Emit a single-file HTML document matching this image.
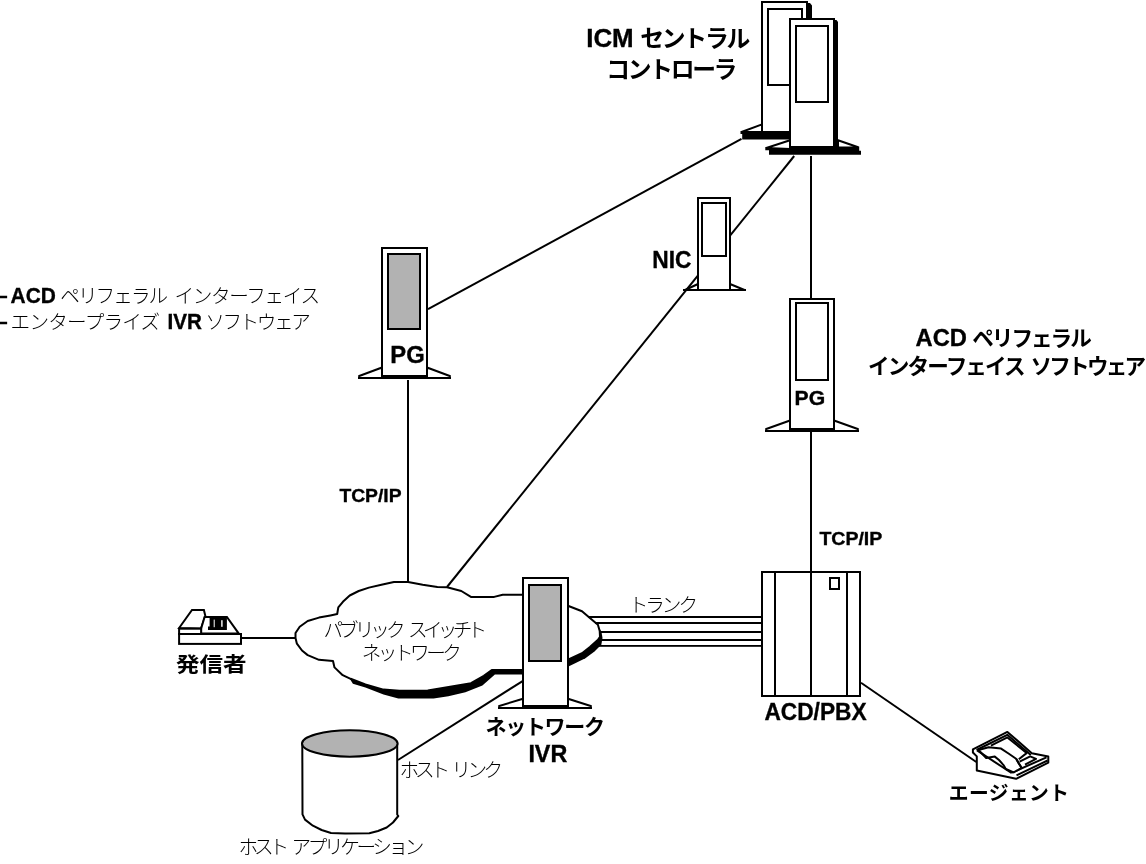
<!DOCTYPE html>
<html lang="ja">
<head>
<meta charset="utf-8">
<title>ICM ネットワーク IVR</title>
<style>
html,body{margin:0;padding:0;background:#fff;overflow:hidden}
svg{display:block;will-change:transform}
text{font-family:"Liberation Sans","Noto Sans CJK JP",sans-serif;fill:#000}
.b{font-weight:bold;stroke:#000;stroke-width:0.35px}
.jb{font-family:"Liberation Sans","Noto Sans CJK JP",sans-serif;font-weight:bold}
.jl{font-family:"Liberation Sans","Noto Sans CJK JP",sans-serif;font-weight:300}
.l{stroke:#000;stroke-width:2;fill:none}
.w{stroke:#000;stroke-width:2;fill:#fff}
.g{stroke:#000;stroke-width:2;fill:#b2b2b2}
.k{fill:#000;stroke:none}
</style>
</head>
<body>
<svg width="1146" height="864" viewBox="0 0 1146 864">
<rect x="0" y="0" width="1146" height="864" fill="#fff"/>

<!-- connection lines -->
<g class="l">
<line x1="428" y1="309.2" x2="741.5" y2="138.9"/>
<line x1="794.2" y1="156" x2="447" y2="587"/>
<line x1="811" y1="156" x2="811" y2="572"/>
<line x1="408" y1="380" x2="408" y2="582"/>
<line x1="241" y1="638" x2="295.5" y2="638"/>
<line x1="523" y1="680.8" x2="398" y2="760"/>
<line x1="861" y1="682.8" x2="976.3" y2="762"/>
</g>

<!-- ICM central controller: back tower -->
<g id="icm-back">
<path class="k" d="M806,1 L808,3 L810,3 L812,5.5 L812,132 L806,132 Z"/>
<rect class="w" x="762" y="2" width="45" height="130"/>
<rect class="w" x="768" y="9" width="34" height="76"/>
<path class="w" d="M762,124.4 L741.5,132 L762,132 Z"/>
<path class="k" d="M740.5,131 L790,131 L790,139.6 L742.2,139.6 L742.2,134 L740.5,134 Z"/>
</g>
<!-- ICM central controller: front tower -->
<g id="icm-front">
<path class="k" d="M833,18 L835,20 L836.5,20 L838,22 L838,147 L833,147 Z"/>
<rect class="w" x="790" y="19" width="44" height="128"/>
<rect class="w" x="796" y="26" width="32" height="76"/>
<path class="w" d="M790,140.3 L766.3,148 L790,149 Z"/>
<path class="w" d="M838,140.3 L858.2,147.3 L838,149 Z"/>
<path class="k" d="M789,146 L838,146 L838,146.5 L859.2,146.5 L859.2,150.8 L861,150.8 L861,154.7 L769,154.7 L769,150.2 L765.3,150.2 L765.3,147 L769,147 L769,148 L789,148 Z"/>
</g>

<!-- NIC tower -->
<g id="nic">
<path class="w" d="M698,284 L685,290 L698,290 Z" stroke-width="1.8"/>
<path class="w" d="M730,284 L744.5,290 L730,290 Z" stroke-width="1.8"/>
<rect class="w" x="698" y="198" width="32" height="92"/>
<rect class="w" x="702" y="203" width="24" height="53"/>
<rect class="k" x="683" y="289" width="63" height="2"/>
</g>

<!-- left PG tower -->
<g id="pg-left">
<path class="w" d="M382,367.5 L359.2,376 L359.2,378 L382,378 Z"/>
<path class="w" d="M427,367.5 L449.8,376 L449.8,378 L427,378 Z"/>
<rect class="w" x="382" y="248" width="45" height="128"/>
<rect class="g" x="388" y="254" width="32" height="75"/>
<rect class="k" x="358" y="377" width="93" height="2"/>
<rect class="k" x="381" y="375" width="47" height="4"/>
</g>

<!-- right PG tower -->
<g id="pg-right">
<path class="w" d="M790,420.5 L766.2,429 L766.2,431 L790,431 Z"/>
<path class="w" d="M834,420.5 L857.8,429 L857.8,431 L834,431 Z"/>
<rect class="w" x="790" y="299" width="44" height="130"/>
<rect class="w" x="796" y="303" width="32" height="77"/>
<rect class="k" x="765" y="430" width="94" height="2"/>
<rect class="k" x="789" y="428" width="46" height="4"/>
</g>

<!-- cloud -->
<g id="cloud" stroke-linejoin="round">
<path class="k" d="M348,676 L352.9,683.7 L365.4,687.6 L383.5,694.5 L398.3,698.4 L433.6,698.4 L448.4,696.2 L465.4,692.2 L482.4,685.4 L494.9,674.6 L523,674.6 L523,668 L480,668 L420,680 Z"/>
<path class="k" d="M598,626 L601.5,632 L602.5,638 L601.3,644.7 L594.5,651.5 L585.4,658.3 L568.5,666.4 L568.5,650 L590,630 Z"/>
<path class="w" d="M295.5,633 L299.7,626.7 L307.7,621 L319,617.6 L330.4,615.4 L337.2,614 L338.3,607.4 L342.9,601.8 L349.7,595.5 L358.7,591 L368.9,587.6 L381.4,584.7 L393.9,582 L408.1,582 L422.7,584.7 L437.4,587 L447.1,587.3 L461.3,591 L470.9,596.9 L494.2,596.9 L502.7,594.7 L523,594.7 L568.5,606 L582,611.2 L589.9,618 L597.9,624.8 L599.7,631 L600,636.7 L598,639.8 L589.9,647 L582,653.2 L568.5,659.5 L523,670 L491.8,670 L483.8,675.9 L471,683.2 L442.7,687.9 L427.8,690.6 L399.4,690.7 L383.5,689.6 L365.4,684.5 L350.6,678.8 L342.7,675.2 L334.5,667.4 L333,661 L319,659.8 L307.7,655.1 L302,650.5 L296.9,643.7 L295.5,638 Z"/>
</g>

<!-- trunk lines -->
<g class="k">
<rect x="588" y="616" width="174" height="2"/>
<rect x="595" y="622" width="167" height="2"/>
<rect x="600" y="631" width="162" height="2"/>
<rect x="600" y="639" width="162" height="2"/>
<rect x="598" y="645" width="164" height="1.8"/>
</g>

<!-- network IVR tower -->
<g id="ivr">
<path class="w" d="M523,698.7 L499.2,706 L499.2,708 L523,708 Z"/>
<path class="w" d="M568,698.7 L590.8,706 L590.8,708 L568,708 Z"/>
<rect class="w" x="523" y="578" width="45" height="128"/>
<rect class="g" x="529" y="585" width="32" height="76"/>
<rect class="k" x="498" y="707" width="94" height="2"/>
<rect class="k" x="522" y="705" width="47" height="4"/>
</g>

<!-- ACD/PBX -->
<g id="acd">
<rect class="w" x="762" y="572" width="98" height="124"/>
<line class="l" x1="775" y1="572" x2="775" y2="696"/>
<line class="l" x1="811" y1="572" x2="811" y2="696"/>
<line class="l" x1="847" y1="572" x2="847" y2="696"/>
<rect class="w" x="830" y="578" width="9" height="11"/>
</g>

<!-- caller phone -->
<g id="caller">
<path class="w" d="M179.1,628 L192,609.9 L203.9,609.9 L205.3,615.7 L201.1,628.4 Z"/>
<path class="w" d="M204.6,616.9 L226.9,616.9 L238.8,633.6 L201.1,633.6 L201.1,628.6 Z"/>
<rect class="w" x="179.1" y="628.7" width="22" height="5.3"/>
<rect class="w" x="179.1" y="634" width="61.9" height="9.9"/>
<path class="k" d="M209.6,617.8 L226.9,617.8 L226.9,630 L208,630 L208,626.5 L209.6,626.5 Z"/>
<rect x="213.7" y="619.6" width="1" height="7.6" fill="#fff"/>
<rect x="221.2" y="620.2" width="1.4" height="6.6" fill="#fff"/>
</g>

<!-- agent phone -->
<g id="agent" stroke-linejoin="round">
<path class="w" d="M972.9,749.4 L1007.4,731.9 L1031.8,753.3 L1048.3,756.4 L1048.3,762.7 L1016.1,778.8 L976.8,770.6 L976.8,756.4 L972.9,752.5 Z" stroke-width="1.9"/>
<path class="l" d="M976.5,750 L1007.3,734.8 L1030.8,755" stroke-width="1.6"/>
<path class="l" d="M990.9,745.6 L1007.4,737.4 L1026.6,753.1 L1018.8,759.2" stroke-width="1.7"/>
<path class="l" d="M1011.3,772.9 L1046.5,757.3 M1016.5,775.4 L1047.6,760.5" stroke-width="1.7"/>
<path class="l" d="M1019.6,761.6 L1030.2,756.4 L1036,758.8 L1025,764.6" stroke-width="1.9"/>
<path class="w" d="M978.5,750 L988.6,747.2 L1001.1,748.6 L1008.5,753.5 L1016.1,758.8 L1019.2,764.3 L1021.6,767.8 L1013.7,772.4 L1005.8,769 L1003.5,765.1 L999,760 L994.8,756.6 L986.2,758 Z" stroke-width="1.9"/>
<path class="l" d="M977,750.4 L1011.5,773" stroke-width="3"/>
<path class="l" d="M1016.3,759 L1021.4,767.6" stroke-width="2.8"/>
</g>

<!-- cylinder -->
<g id="cyl" stroke-linejoin="round">
<path class="w" stroke-width="2.3" d="M302.3,743.5 L302.5,814.4 L305,819.6 L312.9,825.7 L321.6,830 L331,833 L345,833.6 L369.3,833.3 L378,831 L386.7,827.5 L393,822.5 L398.3,816 L397.2,814.5 L397.2,743.5 Z"/>
<ellipse class="g" stroke-width="2.3" cx="349.8" cy="743.5" rx="47.8" ry="13.2"/>
</g>

<!-- labels -->
<g id="labels">
<text class="b" x="586.2" y="46.9" font-size="26.5" textLength="47.5" lengthAdjust="spacingAndGlyphs">ICM</text>
<text class="jb" x="640.3" y="47.0" font-size="23.8" textLength="109.9" lengthAdjust="spacing">セントラル</text>
<text class="jb" x="606.3" y="77.9" font-size="23.8" textLength="131.1" lengthAdjust="spacing">コントローラ</text>
<text class="b" x="652.2" y="267.5" font-size="23.8" textLength="39.2" lengthAdjust="spacingAndGlyphs">NIC</text>
<text class="b" x="390.3" y="362.8" font-size="23.6" textLength="34.4" lengthAdjust="spacingAndGlyphs">PG</text>
<text class="b" x="794.6" y="405.4" font-size="19.7" textLength="30.6" lengthAdjust="spacingAndGlyphs">PG</text>
<text class="b" x="-1.4" y="301.7" font-size="20.0" textLength="9.0" lengthAdjust="spacingAndGlyphs">–</text>
<text class="b" x="10.6" y="302.9" font-size="21.7" textLength="45.3" lengthAdjust="spacingAndGlyphs">ACD</text>
<text class="jl" x="60.2" y="303.1" font-size="19.6" textLength="108.0" lengthAdjust="spacing">ペリフェラル</text>
<text class="jl" x="174.6" y="303.1" font-size="19.6" textLength="145.5" lengthAdjust="spacing">インターフェイス</text>
<text class="b" x="-1.4" y="328.4" font-size="20.0" textLength="9.0" lengthAdjust="spacingAndGlyphs">–</text>
<text class="jl" x="10.6" y="329.2" font-size="19.6" textLength="149.5" lengthAdjust="spacing">エンタープライズ</text>
<text class="b" x="167.5" y="329.0" font-size="21.7" textLength="34.4" lengthAdjust="spacingAndGlyphs">IVR</text>
<text class="jl" x="205.2" y="329.2" font-size="19.6" textLength="105.6" lengthAdjust="spacing">ソフトウェア</text>
<text class="b" x="915.5" y="345.9" font-size="24.6" textLength="51.4" lengthAdjust="spacingAndGlyphs">ACD</text>
<text class="jb" x="972.2" y="345.7" font-size="21.6" textLength="119.6" lengthAdjust="spacing">ペリフェラル</text>
<text class="jb" x="868.1" y="373.7" font-size="21.6" textLength="157.6" lengthAdjust="spacing">インターフェイス</text>
<text class="jb" x="1030.5" y="373.7" font-size="21.6" textLength="115.6" lengthAdjust="spacing">ソフトウェア</text>
<text class="b" x="339.4" y="501.8" font-size="18.6" textLength="62.2" lengthAdjust="spacingAndGlyphs">TCP/IP</text>
<text class="b" x="819.4" y="545.4" font-size="18.6" textLength="62.9" lengthAdjust="spacingAndGlyphs">TCP/IP</text>
<text class="jl" x="323.5" y="637.0" font-size="19.6" textLength="82.0" lengthAdjust="spacing">パブリック</text>
<text class="jl" x="408.0" y="637.0" font-size="19.6" textLength="79.1" lengthAdjust="spacing">スイッチト</text>
<text class="jl" x="361.7" y="660.3" font-size="19.6" textLength="100.2" lengthAdjust="spacing">ネットワーク</text>
<text class="jl" x="628.7" y="611.7" font-size="19.6" textLength="69.3" lengthAdjust="spacing">トランク</text>
<text class="jb" x="175.9" y="672.0" font-size="20.8" textLength="70.7" lengthAdjust="spacingAndGlyphs">発信者</text>
<text class="jb" x="485.4" y="733.6" font-size="21.0" textLength="119.7" lengthAdjust="spacing">ネットワーク</text>
<text class="b" x="528.4" y="762.1" font-size="23.0" textLength="38.9" lengthAdjust="spacingAndGlyphs">IVR</text>
<text class="b" x="764.4" y="719.8" font-size="23.6" textLength="102.2" lengthAdjust="spacingAndGlyphs">ACD/PBX</text>
<text class="jb" x="948.8" y="799.7" font-size="19.8" textLength="120.2" lengthAdjust="spacing">エージェント</text>
<text class="jl" x="399.4" y="777.0" font-size="19.6" textLength="50.6" lengthAdjust="spacing">ホスト</text>
<text class="jl" x="451.6" y="777.0" font-size="19.6" textLength="51.5" lengthAdjust="spacing">リンク</text>
<text class="jl" x="238.5" y="854.0" font-size="19.6" textLength="50.5" lengthAdjust="spacing">ホスト</text>
<text class="jl" x="291.6" y="854.0" font-size="19.6" textLength="132.8" lengthAdjust="spacing">アプリケーション</text>
</g>
</svg>
</body>
</html>
